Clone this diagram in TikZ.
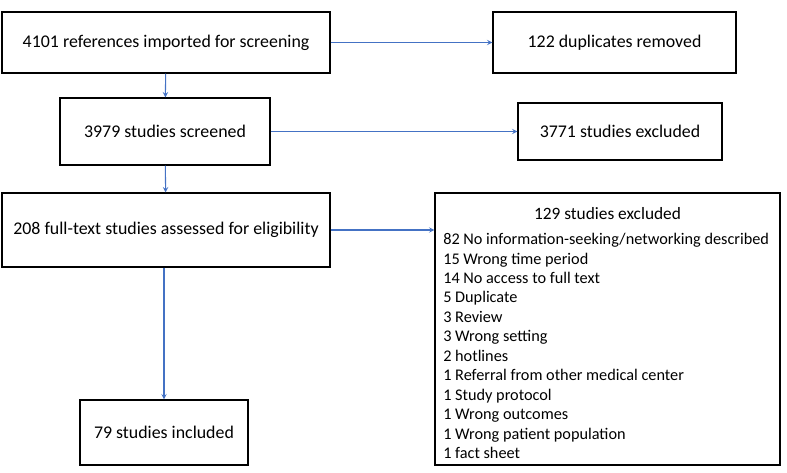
\documentclass[tikz,border=0pt]{standalone}
\usepackage{fontspec}
\setmainfont{Carlito}
\usetikzlibrary{arrows}
\definecolor{linkblue}{RGB}{68,114,196}
\tikzstyle{box} = [rectangle, draw=black, thick, inner sep=0pt, font=\fontsize{13.4}{16}\selectfont]
\tikzstyle{arrow} = [linkblue, thick, ->, >=stealth]

\begin{document}
\begin{tikzpicture}[x=0.75pt, y=-0.75pt]
  \useasboundingbox (0,0) rectangle (787,472);
  \node (refs) [box, minimum width=328*0.75pt, minimum height=61*0.75pt] at (166,42.5) {4101 references imported for screening};
  \node (dup) [box, minimum width=243*0.75pt, minimum height=61*0.75pt] at (614.5,42.5) {122 duplicates removed};
  \node (screen) [box, minimum width=210*0.75pt, minimum height=67*0.75pt] at (165,131.5) {3979 studies screened};
  \node (excl1) [box, minimum width=204*0.75pt, minimum height=57*0.75pt] at (620,131.5) {3771 studies excluded};
  \node (full) [box, minimum width=328*0.75pt, minimum height=74*0.75pt] at (166,230) {208 full-text studies assessed for eligibility};
  \node (excl2) [box, minimum width=345*0.75pt, minimum height=272*0.75pt] at (607.5,329) {};
  \node (incl) [box, minimum width=168*0.75pt, minimum height=65*0.75pt] at (164,432.5) {79 studies included};
  \node (exhead) [font=\fontsize{13}{16}\selectfont] at (607.5,214) {129 studies excluded};
  \node (exlist) [anchor=north west, align=left, inner sep=0pt, font=\fontsize{12.2}{14.6}\selectfont] at (443,233) {82 No information-seeking/networking described\\
15 Wrong time period\\
14 No access to full text\\
5 Duplicate\\
3 Review\\
3 Wrong setting\\
2 hotlines\\
1 Referral from other medical center\\
1 Study protocol\\
1 Wrong outcomes\\
1 Wrong patient population\\
1 fact sheet};

  \draw [arrow] (refs) -- (dup);
  \draw [arrow] (refs) -- (screen);
  \draw [arrow] (screen) -- (excl1);
  \draw [arrow] (screen) -- (full);
  \draw [arrow] (full.east) -- (full.east -| excl2.west);
  \draw [arrow] (full.south -| incl.north) -- (incl);
\end{tikzpicture}
\end{document}
